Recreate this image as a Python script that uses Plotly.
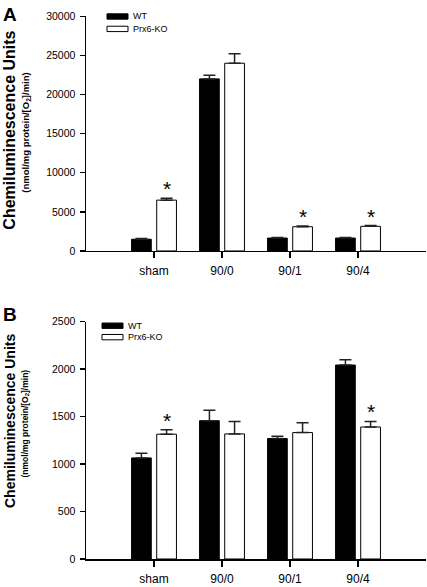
import plotly.graph_objects as go

categories = ["sham", "90/0", "90/1", "90/4"]

a_wt = [1500, 22000, 1650, 1650]
a_wt_err = [80, 450, 60, 60]
a_ko = [6500, 24000, 3100, 3150]
a_ko_err = [250, 1200, 80, 100]

b_wt = [1065, 1457, 1269, 2044]
b_wt_err = [50, 110, 25, 56]
b_ko = [1315, 1318, 1332, 1391]
b_ko_err = [48, 132, 104, 59]

a_ticks = [0, 5000, 10000, 15000, 20000, 25000, 30000]
b_ticks = [0, 500, 1000, 1500, 2000, 2500]

a_sig = [0, 2, 3]   # KO bars with asterisk in panel A
b_sig = [0, 3]      # KO bars with asterisk in panel B

W, H = 427, 587
ML, MR, MT, MB = 86, 1, 16, 24
PW = W - ML - MR
PH = H - MT - MB
FONT = "Liberation Sans, Arial, sans-serif"


def px_x(px):
    return (px - ML) / PW


def px_y(py):
    return (H - MB - py) / PH


def clamp(v):
    return min(1.0, max(0.0, v))


xpos = list(range(len(categories)))
BW = 0.29
OFF_WT = -0.33
OFF_KO = 0.04

fig = go.Figure()


def add_panel(wt, wt_err, ko, ko_err, xa, ya):
    fig.add_trace(go.Bar(
        x=xpos, y=wt, width=BW, offset=OFF_WT, xaxis=xa, yaxis=ya,
        marker=dict(color="black", line=dict(color="black", width=1)),
        error_y=dict(type="data", array=wt_err, arrayminus=[0] * len(wt),
                     symmetric=False, color="#222", thickness=1.5, width=6),
        showlegend=False, name="WT"))
    fig.add_trace(go.Bar(
        x=xpos, y=ko, width=BW, offset=OFF_KO, xaxis=xa, yaxis=ya,
        marker=dict(color="white", line=dict(color="black", width=1)),
        error_y=dict(type="data", array=ko_err, arrayminus=[0] * len(ko),
                     symmetric=False, color="#222", thickness=1.5, width=6),
        showlegend=False, name="Prx6-KO"))


add_panel(a_wt, a_wt_err, a_ko, a_ko_err, "x", "y")
add_panel(b_wt, b_wt_err, b_ko, b_ko_err, "x2", "y2")

xcommon = dict(range=[-1, 4], tickvals=xpos, ticktext=categories,
               ticks="outside", ticklen=6, tickwidth=1.5, tickcolor="black",
               showline=True, linecolor="black", linewidth=1.5,
               showgrid=False, zeroline=False, fixedrange=True,
               tickfont=dict(family=FONT, size=12, color="black"),
               ticklabelstandoff=2)
ycommon = dict(ticks="outside", ticklen=5, tickwidth=1.5, tickcolor="black",
               showline=True, linecolor="black", linewidth=1.5,
               showgrid=False, zeroline=False, fixedrange=True,
               tickfont=dict(family=FONT, size=10.5, color="black"),
               ticklabelstandoff=2)

fig.update_layout(
    width=W, height=H,
    margin=dict(l=ML, r=MR, t=MT, b=MB),
    paper_bgcolor="white", plot_bgcolor="white",
    barmode="overlay",
    showlegend=False,
    hovermode=False,
    xaxis=dict(domain=[0, 1], anchor="y", **xcommon),
    yaxis=dict(domain=[clamp(px_y(252.7)), clamp(px_y(16.3))], anchor="x",
               range=[0, 30000], tickvals=a_ticks,
               ticktext=[str(t) for t in a_ticks], **ycommon),
    xaxis2=dict(domain=[0, 1], anchor="y2", **xcommon),
    yaxis2=dict(domain=[clamp(px_y(563.3)), clamp(px_y(324))], anchor="x2",
                range=[0, 2500], tickvals=b_ticks,
                ticktext=[str(t) for t in b_ticks], **ycommon),
)

ann = []
# asterisks
for i in a_sig:
    ann.append(dict(x=i + OFF_KO + BW / 2, y=a_ko[i] + a_ko_err[i], xref="x", yref="y",
                    text="*", showarrow=False, yanchor="bottom", yshift=-4,
                    font=dict(family=FONT, size=21, color="black")))
for i in b_sig:
    ann.append(dict(x=i + OFF_KO + BW / 2, y=b_ko[i] + b_ko_err[i], xref="x2", yref="y2",
                    text="*", showarrow=False, yanchor="bottom", yshift=-4,
                    font=dict(family=FONT, size=21, color="black")))

# panel letters
ann.append(dict(x=px_x(1), y=px_y(2), xref="paper", yref="paper", text="<b>A</b>",
                showarrow=False, xanchor="left", yanchor="top",
                font=dict(family=FONT, size=19, color="black")))
ann.append(dict(x=px_x(1), y=px_y(304), xref="paper", yref="paper", text="<b>B</b>",
                showarrow=False, xanchor="left", yanchor="top",
                font=dict(family=FONT, size=19, color="black")))

# y titles
for (xm, ym, fs_m, xs, fs_s) in [(9.5, 131, 16, 26.5, 9.5), (10, 424, 14, 25.5, 8.5)]:
    ann.append(dict(x=px_x(xm), y=px_y(ym), xref="paper", yref="paper",
                    text="<b>Chemiluminescence Units</b>", textangle=-90,
                    showarrow=False, xanchor="center", yanchor="middle",
                    font=dict(family=FONT, size=fs_m, color="black")))
    ann.append(dict(x=px_x(xs), y=px_y(ym + 3), xref="paper", yref="paper",
                    text="<b>(nmol/mg protein/[O<sub>2</sub>]/min)</b>", textangle=-90,
                    showarrow=False, xanchor="center", yanchor="middle",
                    font=dict(family=FONT, size=fs_s, color="black")))

# legends (boxes + text)
shapes = []
for (x0, x1, y_wt, y_ko) in [(107, 128, 16.5, 29), (102, 123, 328, 339.5)]:
    shapes.append(dict(type="rect", xref="paper", yref="paper",
                       x0=px_x(x0), x1=px_x(x1), y0=px_y(y_wt + 2.7), y1=px_y(y_wt - 2.7),
                       fillcolor="black", line=dict(color="black", width=1)))
    shapes.append(dict(type="rect", xref="paper", yref="paper",
                       x0=px_x(x0), x1=px_x(x1), y0=px_y(y_ko + 2.7), y1=px_y(y_ko - 2.7),
                       fillcolor="white", line=dict(color="black", width=1)))
    ann.append(dict(x=px_x(x1 + 3), y=px_y(y_wt), xref="paper", yref="paper", text="WT",
                    showarrow=False, xanchor="left", yanchor="middle",
                    font=dict(family=FONT, size=9, color="black")))
    ann.append(dict(x=px_x(x1 + 3), y=px_y(y_ko), xref="paper", yref="paper", text="Prx6-KO",
                    showarrow=False, xanchor="left", yanchor="middle",
                    font=dict(family=FONT, size=9, color="black")))

fig.update_layout(annotations=ann, shapes=shapes)

fig.write_html("out.html", config={"displayModeBar": False, "staticPlot": True},
               post_script="document.body.style.margin='0';document.body.style.padding='0';")
